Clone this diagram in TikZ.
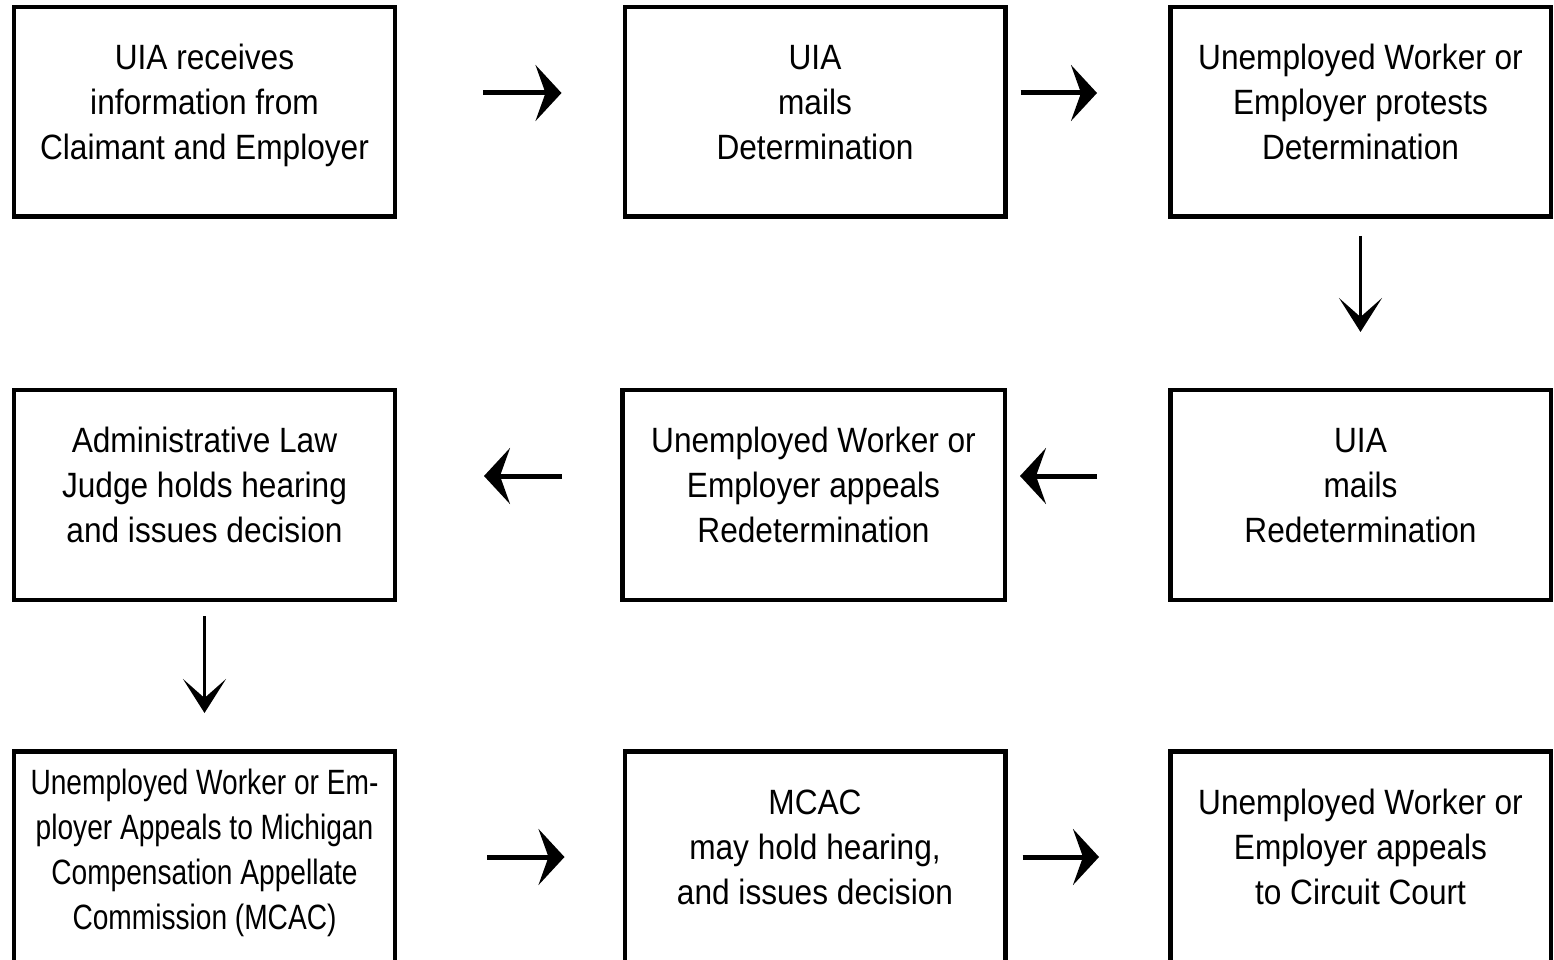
\documentclass[tikz,border=0pt]{standalone}
\usepackage{fontspec}
\newfontfamily\stepfont{Liberation Sans}[FakeStretch=0.9]
\newfontfamily\narrowfont{Liberation Sans}[FakeStretch=0.8]
\usetikzlibrary{arrows.meta}

\begin{document}
\begin{tikzpicture}[
  every node/.style = {shape=rectangle, draw, line width=0.09cm,
    align=center, inner sep=0pt, text depth=0.4cm,
    minimum width=7.61cm, minimum height=4.19cm,
    font=\fontsize{20}{25.6}\selectfont\stepfont},
  flow/.style = {line width=0.1cm,
    -{Stealth[length=0.52cm, width=1.12cm, inset=0.2cm]}},
  flowdown/.style = {line width=0.066cm,
    -{Stealth[length=0.68cm, width=0.86cm, inset=0.38cm]}}]
  \clip (0,0) rectangle (31.08,-19.2);
  \node (recv) at (4.09,-2.24) {UIA receives\\information from\\Claimant and Employer};
  \node (mails) at (16.3,-2.24) {UIA\\mails\\Determination};
  \node (protest) at (27.21,-2.24) {Unemployed Worker or\\Employer protests\\Determination};
  \node (remails) at (27.21,-9.9) {UIA\\mails\\Redetermination};
  \node [minimum width=7.65cm] (appeal) at (16.27,-9.9) {Unemployed Worker or\\Employer appeals\\Redetermination};
  \node (alj) at (4.09,-9.9) {Administrative Law\\Judge holds hearing\\and issues decision};
  \node [minimum height=4.31cm, font=\fontsize{20}{25.6}\selectfont\narrowfont] (mcacappeal) at (4.09,-17.18)
    {Unemployed Worker or Em-\\ployer Appeals to Michigan\\Compensation Appellate\\Commission (MCAC)};
  \node [minimum height=4.23cm] (mcac) at (16.3,-17.14) {MCAC\\may hold hearing,\\and issues decision};
  \node [minimum height=4.23cm] (court) at (27.21,-17.14) {Unemployed Worker or\\Employer appeals\\to Circuit Court};

  \draw[flow, shorten <=1.72cm, shorten >=1.22cm] ([yshift=.38cm]recv.east) -- ([yshift=.38cm]mails.west);
  \draw[flow, shorten <=0.26cm, shorten >=1.42cm] ([yshift=.38cm]mails.east) -- ([yshift=.38cm]protest.west);
  \draw[flowdown, shorten <=0.34cm, shorten >=1.12cm] (protest.south) -- (remails.north);
  \draw[flow, shorten <=1.42cm, shorten >=0.26cm] ([yshift=.38cm]remails.west) -- ([yshift=.38cm]appeal.east);
  \draw[flow, shorten <=1.16cm, shorten >=1.74cm] ([yshift=.38cm]appeal.west) -- ([yshift=.38cm]alj.east);
  \draw[flowdown, shorten <=0.28cm, shorten >=0.72cm] (alj.south) -- (mcacappeal.north);
  \draw[flow, shorten <=1.8cm, shorten >=1.16cm] (mcacappeal.east |- mcac.east) -- (mcac.west);
  \draw[flow, shorten <=0.3cm, shorten >=1.38cm] (mcac.east) -- (court.west);
\end{tikzpicture}
\end{document}
